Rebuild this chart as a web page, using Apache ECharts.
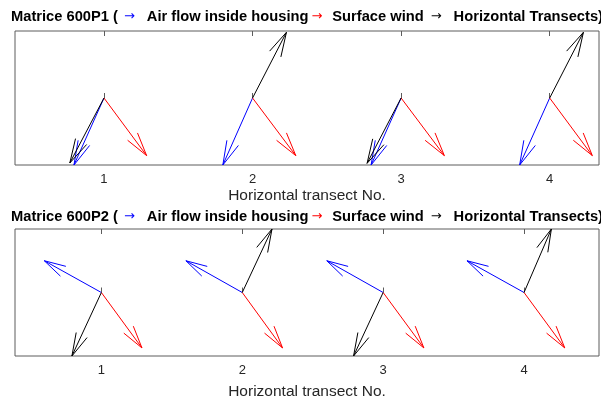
<!DOCTYPE html>
<html>
<head>
<meta charset="utf-8">
<script src="https://cdn.jsdelivr.net/npm/echarts@6/dist/echarts.min.js"></script>
<style>
  html, body { margin: 0; padding: 0; background: #fff; }
  #chart { width: 601px; height: 401px; }
</style>
</head>
<body>
<div id="chart"></div>
<script>
// Horizontal transect positions and tick labels
const transects = [1, 2, 3, 4];
const tickLabels = ['1', '2', '3', '4'];

// Matrice 600P1: vector components (u, v) at each transect
const p1AirU = [-0.202, -0.200, -0.202, -0.202];
const p1AirV = [-1.00, -1.00, -1.00, -1.00];
const p1WindU = [0.287, 0.291, 0.291, 0.287];
const p1WindV = [-0.86, -0.86, -0.86, -0.86];
const p1TransU = [-0.230, 0.228, -0.229, 0.227];
const p1TransV = [-0.97, 0.98, -0.975, 0.98];

// Matrice 600P2: vector components (u, v) at each transect
const p2AirU = [-0.405, -0.400, -0.400, -0.405];
const p2AirV = [0.50, 0.50, 0.50, 0.50];
const p2WindU = [0.288, 0.286, 0.289, 0.289];
const p2WindV = [-0.873, -0.873, -0.873, -0.873];
const p2TransU = [-0.209, 0.211, -0.210, 0.194];
const p2TransV = [-1.00, 1.00, -1.00, 1.00];

const COLORS = { air: '#0000ff', wind: '#ff0000', trans: '#000000' };

function rows(us, vs) {
  return transects.map((x, i) => [x, us[i], vs[i]]);
}

// Quiver-style arrow: shaft plus an open two-barb head
function arrowRenderer(color) {
  return function (params, api) {
    const x = api.value(0), u = api.value(1), v = api.value(2);
    const p0 = api.coord([x, 0]);
    const p1 = api.coord([x + u, v]);
    const dx = p1[0] - p0[0], dy = p1[1] - p0[1];
    const a = 0.33, b = 0.26;
    const h1 = [p1[0] - a * (dx + b * dy), p1[1] - a * (dy - b * dx)];
    const h2 = [p1[0] - a * (dx - b * dy), p1[1] - a * (dy + b * dx)];
    const st = { stroke: color, lineWidth: 1, fill: null };
    return {
      type: 'group',
      children: [
        { type: 'polyline', shape: { points: [p0, p1] }, style: st },
        { type: 'polyline', shape: { points: [h1, p1, h2] }, style: st }
      ]
    };
  };
}

function quiver(name, axisIdx, us, vs, color) {
  return {
    type: 'custom',
    name: name,
    xAxisIndex: axisIdx * 2,
    yAxisIndex: axisIdx,
    clip: false,
    silent: true,
    renderItem: arrowRenderer(color),
    encode: { x: 0, y: 2 },
    data: rows(us, vs)
  };
}

const axisTextColor = '#262626';
const boxColor = '#5c5c5c';

function bottomAxis(gridIdx, min, max, gap) {
  return {
    type: 'value', gridIndex: gridIdx, position: 'bottom',
    min: min, max: max,
    name: 'Horizontal transect No.',
    nameLocation: 'middle', nameGap: gap,
    nameTextStyle: { fontFamily: 'Liberation Sans', fontSize: 15.5, color: axisTextColor },
    axisLine: { show: false },
    splitLine: { show: false },
    axisTick: { show: true, inside: true, length: 5, customValues: transects,
                lineStyle: { color: boxColor, width: 1 } },
    axisLabel: { show: true, margin: 8, customValues: transects,
                 formatter: v => tickLabels[transects.indexOf(Math.round(v))] || '',
                 fontFamily: 'Liberation Sans', fontSize: 13, color: axisTextColor }
  };
}
function topAxis(gridIdx, min, max) {
  return {
    type: 'value', gridIndex: gridIdx, position: 'top',
    min: min, max: max,
    axisLine: { show: false },
    splitLine: { show: false },
    axisTick: { show: true, inside: true, length: 5, customValues: transects,
                lineStyle: { color: boxColor, width: 1 } },
    axisLabel: { show: false }
  };
}
function yAxis(gridIdx) {
  return {
    type: 'value', gridIndex: gridIdx, min: -1, max: 1,
    axisLine: { show: false }, axisTick: { show: false },
    axisLabel: { show: false }, splitLine: { show: false }
  };
}

// Bold title with coloured arrow glyphs between the legend words
const TFS = 14.7;
function arrowStyle(color, padL, padR) {
  return { fontFamily: 'DejaVu Sans', fontSize: 13, fontWeight: 'normal', color: color,
           lineHeight: 17, padding: [0, padR, 0, padL] };
}
function titleRich(text, top) {
  return {
    left: 307, top: top, textAlign: 'center', padding: 0,
    text: text,
    textStyle: {
      fontFamily: 'Liberation Sans', fontSize: TFS, fontWeight: 'bold', color: '#000',
      rich: {
        b: { fontFamily: 'Liberation Sans', fontSize: TFS, fontWeight: 'bold', color: '#000', lineHeight: 17 },
        ab: arrowStyle(COLORS.air, 6, 12),
        ar: arrowStyle(COLORS.wind, 3, 10),
        ak: arrowStyle(COLORS.trans, 7, 12)
      }
    }
  };
}

function titleText(model) {
  return '{b|Matrice ' + model + ' (}{ab|\u2192}{b|Air flow inside housing}{ar|\u2192}' +
         '{b|Surface wind}{ak|\u2192}{b|Horizontal Transects)}';
}

const chart = echarts.init(document.getElementById('chart'), null, { renderer: 'canvas' });
chart.setOption({
  animation: false,
  backgroundColor: '#fff',
  title: [titleRich(titleText('600P1'), 8), titleRich(titleText('600P2'), 208.5)],
  grid: [
    { left: 15, top: 31, width: 584, height: 134, show: true, borderColor: boxColor, borderWidth: 1, backgroundColor: 'transparent' },
    { left: 15, top: 229, width: 584, height: 131, show: true, borderColor: boxColor, borderWidth: 1, backgroundColor: 'transparent' }
  ],
  xAxis: [
    bottomAxis(0, 0.401, 4.332, 23), topAxis(0, 0.401, 4.332),
    bottomAxis(1, 0.387, 4.532, 28), topAxis(1, 0.387, 4.532)
  ],
  yAxis: [yAxis(0), yAxis(1)],
  series: [
    quiver('Air flow inside housing', 0, p1AirU, p1AirV, COLORS.air),
    quiver('Surface wind', 0, p1WindU, p1WindV, COLORS.wind),
    quiver('Horizontal Transects', 0, p1TransU, p1TransV, COLORS.trans),
    quiver('Air flow inside housing', 1, p2AirU, p2AirV, COLORS.air),
    quiver('Surface wind', 1, p2WindU, p2WindV, COLORS.wind),
    quiver('Horizontal Transects', 1, p2TransU, p2TransV, COLORS.trans)
  ]
});
</script>
</body>
</html>
